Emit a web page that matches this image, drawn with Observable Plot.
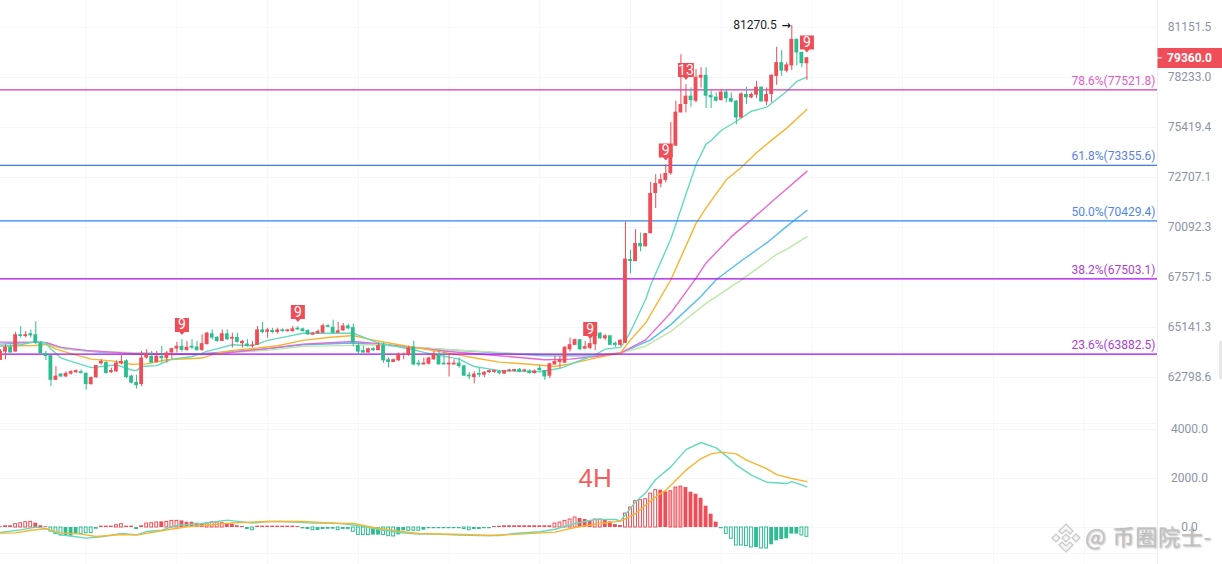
<!DOCTYPE html>
<html><head><meta charset="utf-8">
<script src="https://cdn.jsdelivr.net/npm/d3@7"></script>
<script src="https://cdn.jsdelivr.net/npm/@observablehq/plot@0.6"></script>
<style>
html,body{margin:0;padding:0;background:#fff;overflow:hidden}
#wrap{position:relative;width:1222px;height:564px;overflow:hidden;background:#fff}
#price,#macd{position:absolute;left:0}
#price{top:0}#macd{top:410px}
#wm{position:absolute;left:1085px;top:520px;font:22px "Noto Sans CJK SC";color:#c0c0c0;text-shadow:1px 1px 2px rgba(0,0,0,.3);white-space:nowrap;letter-spacing:.8px;line-height:30px}
#logo{position:absolute;left:1050px;top:522px}
#handle{position:absolute;left:1219px;top:341px;width:3px;height:38px;background:#e9e9e9}
</style></head><body>
<div id="wrap"><div id="price"></div><div id="macd"></div>
<svg id="logo" width="32" height="32" viewBox="0 0 32 32"><g fill="#f4f4f4" stroke="#c8c8c8" stroke-width="1.2"><path d="M16 2l7 7-3 3-4-4-4 4-3-3z"/><path d="M16 30l7-7-3-3-4 4-4-4-3 3z"/><path d="M2 16l4-4 4 4-4 4z"/><path d="M30 16l-4-4-4 4 4 4z"/><path d="M16 12l4 4-4 4-4-4z"/></g></svg>
<div id="wm">@ 币圈院士-</div><div id="handle"></div></div>
<script>
const open=[63585,63975,64195,63975,64790,64710,64835,64790,64400,63900,
63805,62665,62950,62820,62950,63015,63060,62980,62470,62775,
63425,63490,63015,63060,63425,63565,62855,62565,62470,63695,
63770,63490,63770,63680,63930,64115,64245,64055,64245,64210,
64055,64320,64835,64665,64475,64835,64585,64665,64370,64350,
64245,64290,65020,64910,64990,64895,65020,64945,64945,65100,
65070,64990,64770,64835,64865,65220,65145,64865,64975,65210,
65130,64275,64040,63930,64130,64040,64275,63615,63490,63565,
63820,63850,64195,63455,63375,63410,63615,63850,63455,63375,
63375,63455,63330,62900,62790,62980,62900,63015,63030,63060,
62950,63060,63075,63170,63075,63095,62980,63220,63110,62855,
63375,63490,63455,64085,64290,64555,64115,64150,64320,64865,
64600,64740,64385,64290,64390,68460,68360,69270,69100,69770,
71855,72350,72550,72910,74390,76225,76696,77163,76880,78190,
78350,77200,77110,76920,77390,77030,76880,75940,77260,77070,
77220,77670,76840,77260,78290,79083,78590,78890,80436,79680,
79020];
const high=[64085,64320,64320,64910,65180,64945,65020,65410,64475,64005,
63805,63300,62980,63060,63110,63140,63140,63015,62820,63345,
63615,63520,63220,63565,63805,63615,62900,62900,64005,64085,
64005,64005,64245,64005,64165,64430,64555,64475,64555,64475,
64790,64910,65020,64710,65020,65020,64865,64865,64525,64555,
64475,65180,65380,65100,65100,65100,65070,65050,65180,65180,
65115,65020,64910,65020,65300,65270,65485,65380,65330,65300,
65300,64400,64245,64165,64180,64400,64400,63695,63645,63930,
63930,64245,64475,63585,63695,63740,64005,64005,64005,63850,
63615,63695,63360,63015,63060,63220,63075,63140,63140,63110,
63110,63170,63170,63205,63170,63140,63140,63360,63110,63455,
63770,63770,64245,64635,64585,64555,64475,64585,65020,64895,
64790,64740,64445,64555,70370,68932,69975,69800,69770,72445,
72853,72886,73395,75700,76882,79544,77820,77630,78690,78790,
78790,77445,77350,77540,77490,77350,76920,77350,77670,77350,
78010,77670,77630,78390,79980,79780,79083,81270.5,80480,79680,
79380];
const low=[63585,63615,63930,63975,64635,64635,64635,64320,63900,63585,
62390,62665,62790,62790,62900,62980,62950,62215,62440,62775,
63375,62950,62980,63030,63375,62740,62500,62265,62375,63645,
63455,63455,63455,63455,63645,63930,63975,64005,64085,64005,
64005,64320,64555,64430,64475,64525,64165,64400,64165,64210,
64165,64290,64835,64635,64835,64820,64910,64910,64910,64990,
64910,64755,64770,64835,64865,65115,64835,64865,64945,65020,
64210,63835,63930,63930,64005,64040,63455,63235,63490,63535,
63615,63770,63330,63300,63375,63375,63585,63375,63375,62820,
63375,63220,62855,62695,62500,62790,62790,62980,62980,62915,
62950,63045,63045,63015,63045,62950,62950,63075,62665,62740,
63360,63220,63455,63975,64290,64040,64085,64085,64040,64570,
64525,64290,64195,64245,64380,67757,68360,68846,69100,69770,
71070,72150,72410,72815,74390,76225,76225,76545,76785,77630,
76470,76470,76830,76880,76785,76785,75570,75910,76696,77030,
77030,76840,76640,76785,77780,78290,78490,78630,78890,78790,
78060];
const close=[64005,64195,63930,64790,64710,64790,64740,64400,63900,63770,
62665,62855,62820,62980,63060,63110,62980,62470,62790,63345,
63535,62980,63110,63455,63535,62790,62535,62420,63695,63850,
63455,63770,63665,63930,64130,64245,64055,64195,64165,64055,
64370,64865,64635,64475,64835,64555,64665,64430,64475,64245,
64305,65020,64895,65020,64895,65020,64945,65020,65070,65020,
64945,64790,64865,64945,65220,65145,64865,64975,65210,65070,
64400,63975,63930,64130,64040,64275,63565,63490,63615,63880,
63850,64165,63375,63375,63455,63695,63880,63375,63375,63455,
63455,63300,62855,62820,62950,62900,63030,63110,63110,62980,
63110,63140,63155,63045,63140,62980,63095,63110,62820,63425,
63535,63615,64195,64320,64555,64085,64225,64370,64945,64600,
64740,64290,64290,64525,68480,68360,69270,69100,69770,71855,
72378,72585,72910,74390,76264,76696,77163,76920,78233,78350,
77163,77070,76880,77390,77020,76830,75940,77293,77070,77260,
77670,76840,77260,78350,79083,78590,78950,80436,79645,79020,
79360];

const priceTicks=[81151.5,78233.0,75419.4,72707.1,70092.3,67571.5,65141.3,62798.6];
const gridIdx=[17,35,53,71,89,107,125,143,161,179,197,215];
const fibValues=[77521.8,73355.6,70429.4,67503.1,63882.5];
const fibLabels=["78.6%(77521.8)","61.8%(73355.6)","50.0%(70429.4)","38.2%(67503.1)","23.6%(63882.5)"];
const fibLine=["#d636bd","#3f78e6","#2f86f0","#a80cea","#a80cea"];
const fibText=["#e25cc8","#5b82e0","#4f86e6","#a93fd8","#a93fd8"];

const maTeal=[[0,64245],[4,64320],[7,64475],[9,64400],[10,64115],[12,63695],[18,63250],[21,63330],[23,63375],[26,63140],[27,63110],[28,63300],[31,63345],[34,63645],[38,63770],[41,64005],[44,64195],[46,64320],[50,64275],[53,64525],[56,64665],[60,64865],[70,64865],[75,64400],[82,64085],[84,63960],[91,63645],[94,63300],[99,63110],[107,63060],[111,63220],[118,63850],[120,64115],[123,64195],[124,64500],[125,64950],[128,66490],[129,67200],[133,69500],[138,73400],[140,74500],[141,74700],[143,75250],[146,75760],[149,76320],[152,76545],[156,77445],[158,78010],[160,78250]];
const maOrange=[[0,64245],[7,64290],[9,64350],[11,64115],[14,63900],[18,63645],[22,63565],[26,63410],[29,63425],[33,63615],[40,63695],[43,63930],[46,64055],[51,64165],[55,64275],[60,64525],[65,64665],[70,64755],[73,64585],[79,64320],[88,63960],[95,63665],[99,63505],[105,63410],[110,63300],[113,63425],[118,63695],[123,63930],[125,64550],[128,65350],[133,67455],[138,70300],[140,71100],[144,72580],[147,73250],[150,74030],[153,74720],[156,75380],[160,76410]];
const maPink=[[0,64445],[9,64430],[12,64195],[17,64055],[22,63975],[28,63880],[40,63880],[46,63960],[52,64115],[60,64350],[70,64475],[75,64370],[82,64195],[89,64005],[99,63805],[108,63615],[113,63645],[118,63770],[123,63930],[128,64550],[133,65840],[138,67540],[140,68290],[145,69620],[149,70495],[154,71640],[160,73030]];
const maBlue=[[0,64350],[7,64445],[9,64400],[13,64115],[20,63960],[28,63930],[33,63880],[40,63900],[46,64005],[53,64130],[60,64320],[70,64400],[75,64320],[82,64195],[89,64085],[99,63930],[108,63805],[118,63805],[123,63930],[129,64550],[133,65275],[139,66650],[142,67455],[147,68400],[152,69300],[156,70145],[160,70970]];
const maGreen=[[0,64290],[7,64275],[9,64320],[13,64115],[20,64005],[28,63930],[33,63880],[40,63850],[46,63960],[53,64055],[60,64245],[70,64290],[75,64320],[82,64210],[89,64085],[99,63960],[108,63850],[118,63850],[123,63930],[128,64250],[133,64950],[140,66300],[147,67450],[154,68720],[156,68970],[160,69620]];

const tagIdx=[36,59,117,132,136,160];
const tagPrice=[64780,65395,64585,73612,78080,79680];
const tagText=["9","9","9","9","13","9"];

const lastPrice=79360.0, peakIdx=157, peakPrice=81270.5;

const macdTicks=[4000,2000,0];
const macdHist=[30,70,70,135,175,215,230,175,70,30,
-160,-270,-325,-355,-355,-260,-260,-230,-230,-70,
55,55,55,95,135,55,55,-80,70,160,
175,205,230,230,270,270,270,215,215,175,
160,160,215,205,175,160,135,70,40,-80,
-110,55,55,55,55,55,55,55,55,40,
-55,-80,-110,-120,-80,-70,-70,-110,-80,-80,
-175,-300,-310,-310,-310,-310,-310,-355,-365,-300,
-135,-135,-135,-135,-110,-50,-50,-50,-50,-50,
-50,-50,-60,-110,-80,-80,-50,-50,40,50,
70,70,70,70,70,70,70,70,70,70,
160,200,270,325,410,365,325,270,325,325,
300,230,120,80,570,815,1075,1115,1155,1385,
1525,1525,1455,1480,1630,1670,1630,1440,1360,1195,
870,545,220,-50,-260,-460,-735,-735,-760,-815,
-815,-855,-855,-705,-545,-490,-460,-270,-270,-325,
-380];
const hollowIdx=[3,4,5,6,10,11,12,16,17,18,23,24,29,30,31,33,34,35,41,42,43,44,50,62,67,70,71,72,73,76,77,78,81,82,83,92,93,110,111,112,113,114,118,119,124,125,126,127,128,129,130,133,134,135,144,145,146,147,148,149,151,152,159,160];
const pinkIdx=[133,134,135];
const macdDif=[[0,-205],[4,-95],[7,15],[9,-40],[10,-135],[12,-300],[15,-380],[17,-435],[20,-380],[24,-245],[27,-300],[29,-165],[32,-110],[35,95],[40,165],[45,300],[50,180],[53,245],[56,245],[62,180],[66,190],[69,135],[73,0],[76,-110],[79,-205],[83,-270],[86,-270],[91,-310],[95,-325],[99,-325],[102,-245],[107,-175],[110,-70],[114,165],[118,325],[122,325],[123,270],[126,1045],[128,1415],[130,1960],[133,2475],[136,3180],[139,3470],[142,3250],[145,2750],[146,2545],[149,2135],[152,1850],[156,1795],[157,1875],[160,1660]];
const macdDea=[[0,-230],[3,-220],[6,-110],[9,-55],[12,-220],[16,-270],[19,-365],[24,-285],[27,-310],[32,-135],[37,30],[42,110],[46,190],[53,245],[60,245],[66,175],[70,165],[74,0],[79,-150],[83,-245],[92,-285],[97,-325],[103,-270],[110,-190],[114,0],[119,165],[123,260],[126,570],[130,1250],[132,1525],[136,2340],[139,2815],[141,3005],[143,3075],[146,3005],[148,2750],[152,2405],[154,2160],[157,2000],[160,1875]];
const paneEdges=[4245,-1061];

const RED="#ef4d57", GREEN="#2ebd91", AXIS="#8b94a5", GRID="#f5f6f8";
const F="Roboto";
const candles=open.map((o,i)=>({i,o,h:high[i],l:low[i],c:close[i],col:close[i]>=o?RED:GREEN}));
const X={domain:[0,229.56],range:[0,1157],axis:null};
const fibs=fibValues.map((v,k)=>({v,t:fibLabels[k],line:fibLine[k],text:fibText[k]}));
const tags=tagIdx.map((i,k)=>({i,p:tagPrice[k],t:tagText[k]}));
const tagSym=w=>({draw(c){const h=w/2;c.moveTo(-h,-17);c.lineTo(h,-17);c.lineTo(h,-3);c.lineTo(2.5,-3);c.lineTo(0,0);c.lineTo(-2.5,-3);c.lineTo(-h,-3);c.closePath();}});
const priceTag={draw(c){c.moveTo(0,-10);c.lineTo(65,-10);c.lineTo(65,10);c.lineTo(0,10);c.closePath();}};
const maLine=(arr,stroke)=>Plot.line(arr,{x:d=>d[0],y:d=>d[1],stroke,strokeWidth:1.4});
const rightEdge=X.domain[1];

document.getElementById("price").append(Plot.plot({
  width:1222,height:410,marginLeft:0,marginRight:65,marginTop:0,marginBottom:0,
  style:{background:"transparent",fontFamily:F,fontSize:"12px",color:AXIS},
  x:X,
  y:{type:"log",domain:[61295,82767],range:[410,0]},
  marks:[
    Plot.ruleX(gridIdx,{stroke:GRID,strokeWidth:1}),
    Plot.ruleY(priceTicks,{stroke:GRID,strokeWidth:1}),
    Plot.ruleX([rightEdge],{stroke:"#eceef1",strokeWidth:1}),
    Plot.axisY({anchor:"right",ticks:priceTicks,tickSize:0,tickPadding:32,textAnchor:"middle",tickFormat:d=>d.toFixed(1),fill:AXIS,fontSize:12,label:null}),
    maLine(maBlue,"#55bdf0"),maLine(maGreen,"#bde8a6"),maLine(maPink,"#e968d2"),
    maLine(maOrange,"#f8b431"),maLine(maTeal,"#62dabd"),
    Plot.ruleY(fibs,{y:"v",stroke:"line",strokeWidth:1.2,x1:0,x2:rightEdge}),
    Plot.ruleX(candles,{x:"i",y1:"l",y2:"h",stroke:"col",strokeWidth:1,clip:"frame"}),
    Plot.rect(candles,{x1:d=>d.i-0.38,x2:d=>d.i+0.38,y1:d=>Math.min(d.o,d.c),y2:d=>Math.max(d.o,d.c)*1.00004,fill:"col",clip:"frame"}),
    Plot.text(fibs,{x:()=>rightEdge,y:"v",text:"t",fill:"text",textAnchor:"end",dy:-9,dx:-2,fontSize:12,fontFamily:F}),
    Plot.dot(tags.filter(d=>d.t==="9"),{x:"i",y:"p",symbol:tagSym(14),fill:RED}),
    Plot.dot(tags.filter(d=>d.t==="13"),{x:"i",y:"p",symbol:tagSym(16),fill:RED}),
    Plot.text(tags,{x:"i",y:"p",text:"t",fill:"#fff",dy:-10,fontSize:14,fontFamily:F}),
    Plot.text([peakPrice],{x:()=>peakIdx,y:d=>d,text:d=>d.toFixed(1),textAnchor:"end",dx:-15,fontSize:12,fill:"#1a1f2b",fontFamily:F}),
    Plot.text([peakPrice],{x:()=>peakIdx,y:d=>d,text:()=>"→",textAnchor:"end",dx:-1,fontSize:11,fontWeight:"bold",fill:"#1a1f2b",fontFamily:"DejaVu Sans"}),
    Plot.dot([lastPrice],{x:()=>rightEdge,y:d=>d,symbol:priceTag,fill:RED}),
    Plot.ruleY([lastPrice],{x1:rightEdge,x2:rightEdge+1,stroke:"#fff",strokeWidth:1}),
    Plot.text([lastPrice],{x:()=>rightEdge,y:d=>d,dx:32,text:d=>d.toFixed(1),fill:"#fff",fontWeight:"bold",fontSize:12,fontFamily:F})
  ]
}));

const bars=macdHist.map((v,i)=>({i,v,hollow:hollowIdx.includes(i),pink:pinkIdx.includes(i),col:v>=0?RED:GREEN}));
document.getElementById("macd").append(Plot.plot({
  width:1222,height:154,marginLeft:0,marginRight:65,marginTop:0,marginBottom:0,
  style:{background:"transparent",fontFamily:F,fontSize:"12px",color:AXIS},
  x:X,
  y:{domain:[4776,-1510],range:[0,154]},
  marks:[
    Plot.ruleX(gridIdx,{stroke:GRID,strokeWidth:1}),
    Plot.ruleY(macdTicks,{stroke:GRID,strokeWidth:1}),
    Plot.ruleY(paneEdges,{stroke:GRID,strokeWidth:1}),
    Plot.ruleX([rightEdge],{stroke:"#eceef1",strokeWidth:1}),
    Plot.axisY({anchor:"right",ticks:macdTicks,tickSize:0,tickPadding:32,textAnchor:"middle",tickFormat:d=>d.toFixed(1),fill:AXIS,fontSize:12,label:null}),
    Plot.rect(bars.filter(d=>!d.hollow),{x1:d=>d.i-0.38,x2:d=>d.i+0.38,y1:()=>0,y2:"v",fill:"col"}),
    Plot.rect(bars.filter(d=>d.hollow),{x1:d=>d.i-0.28,x2:d=>d.i+0.28,y1:()=>0,y2:"v",fill:d=>d.pink?"#f9a8ad":"#fff",stroke:"col",strokeWidth:1}),
    Plot.line(macdDif,{x:d=>d[0],y:d=>d[1],stroke:"#62dabd",strokeWidth:1.4}),
    Plot.line(macdDea,{x:d=>d[0],y:d=>d[1],stroke:"#f8b431",strokeWidth:1.4}),
    Plot.text(["4H"],{x:()=>118,y:()=>1990,text:d=>d,fill:"#f0605f",fontSize:26,fontFamily:"Liberation Sans"})
  ]
}));
</script></body></html>
